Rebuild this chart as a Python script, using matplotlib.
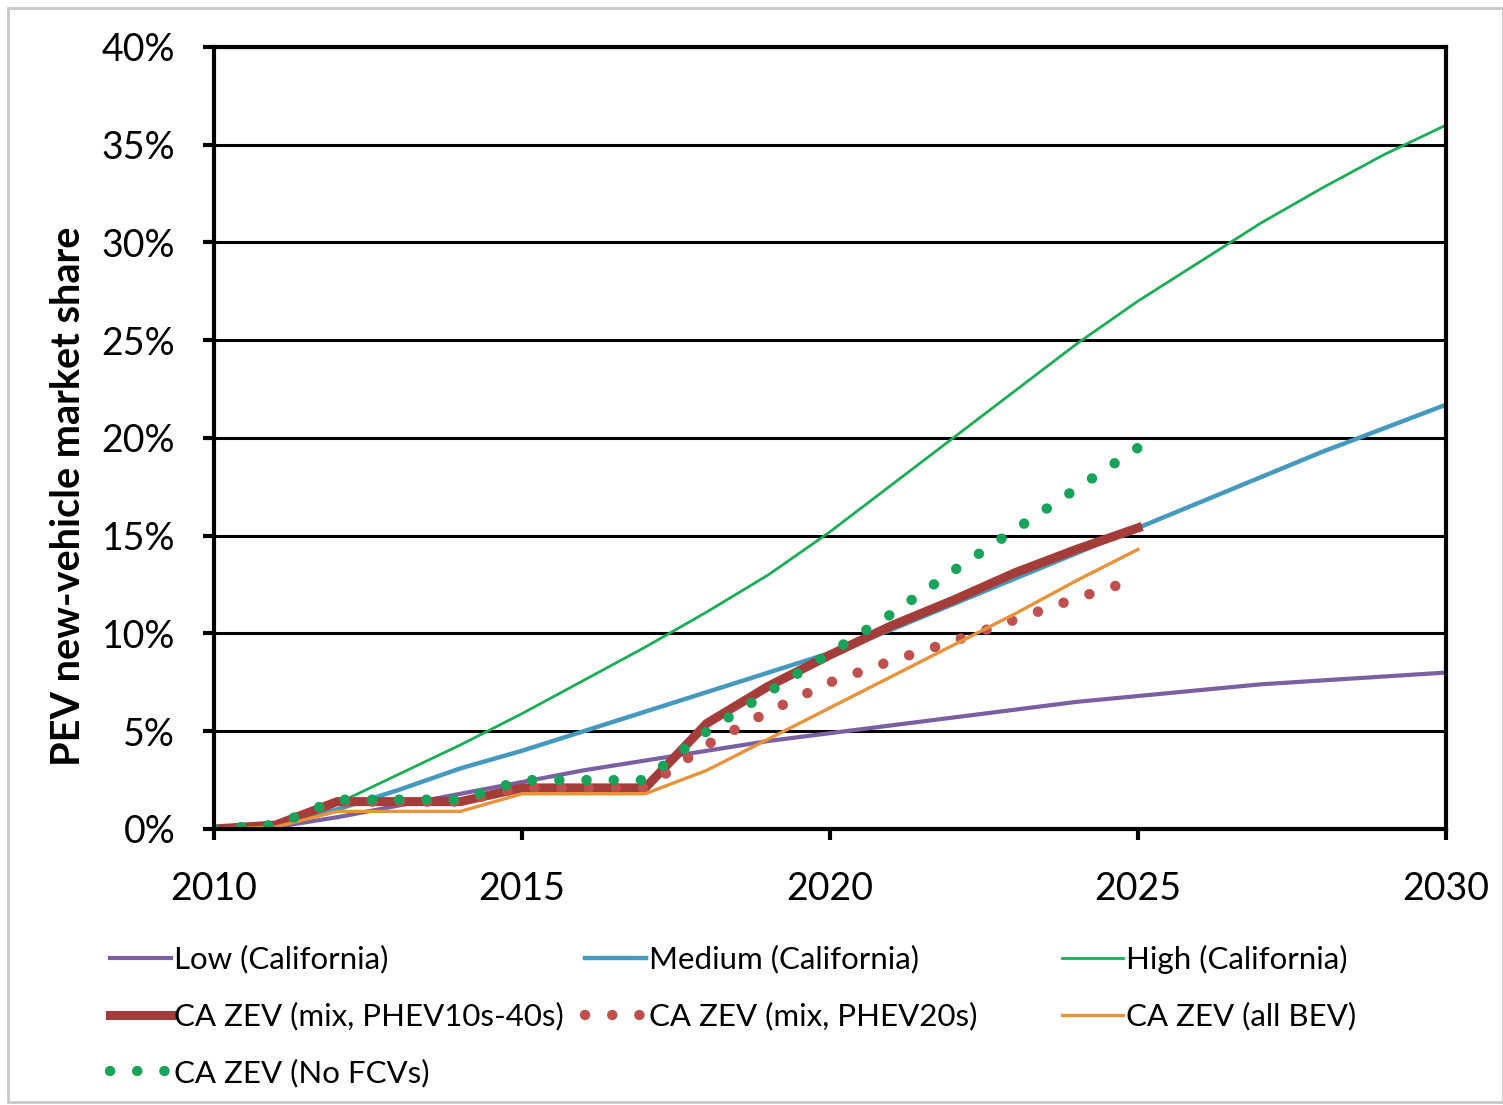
import matplotlib.pyplot as plt
from matplotlib.patches import Rectangle
from matplotlib.ticker import FuncFormatter

plt.rcParams['font.family'] = ['Lato', 'DejaVu Sans']

years_long = list(range(2010, 2031))
years_zev = list(range(2010, 2026))

low = [0, 0.1, 0.6, 1.2, 1.8, 2.4, 3.0, 3.5, 4.0, 4.5, 4.9, 5.3, 5.7, 6.1,
       6.5, 6.8, 7.1, 7.4, 7.6, 7.8, 8.0]
medium = [0, 0.2, 1.0, 2.0, 3.1, 4.0, 5.0, 6.0, 7.0, 8.0, 9.0, 10.2, 11.5,
          12.8, 14.1, 15.4, 16.7, 18.0, 19.3, 20.5, 21.7]
high = [0, 0.3, 1.3, 2.8, 4.3, 5.9, 7.6, 9.3, 11.1, 13.0, 15.2, 17.6, 20.0,
        22.4, 24.8, 27.0, 29.0, 31.0, 32.8, 34.5, 36.0]
zev_mix = [0, 0.2, 1.4, 1.4, 1.4, 2.1, 2.1, 2.1, 5.4, 7.3, 8.9, 10.4, 11.7,
           13.1, 14.3, 15.4]
zev_phev20 = [0, 0.2, 1.4, 1.4, 1.4, 2.1, 2.1, 2.1, 4.3, 6.0, 7.5, 8.6, 9.6,
              10.7, 11.8, 12.8]
zev_bev = [0, 0.1, 0.9, 0.9, 0.9, 1.8, 1.8, 1.8, 3.0, 4.6, 6.2, 7.8, 9.4,
           11.0, 12.7, 14.3]
zev_nofcv = [0, 0.2, 1.5, 1.5, 1.5, 2.5, 2.5, 2.5, 5.0, 7.0, 9.0, 11.0, 13.2,
             15.3, 17.4, 19.5]

fig = plt.figure(figsize=(15.03, 11.05), dpi=100)
# light grey frame round the whole picture
fig.patches.append(Rectangle((0.005, 0.003), 0.995, 0.99, transform=fig.transFigure,
                             fill=False, edgecolor='#c8c8c8', linewidth=2))
ax = fig.add_axes([0.1424, 0.2498, 0.8196, 0.7077])

dots = (0, (0.01, 2.6))
h_low, = ax.plot(years_long, low, color='#7a5fa2', lw=3, label='Low (California)')
h_med, = ax.plot(years_long, medium, color='#4599bf', lw=3.2, label='Medium (California)')
h_high, = ax.plot(years_long, high, color='#1aad55', lw=2, label='High (California)')
h_mix, = ax.plot(years_zev, zev_mix, color='#a43c3a', lw=6.5,
                 label='CA ZEV (mix, PHEV10s-40s)')
h_p20, = ax.plot(years_zev, zev_phev20, color='#c0504d', lw=7.5, linestyle=dots,
                 dash_capstyle='round', label='CA ZEV (mix, PHEV20s)')
h_bev, = ax.plot(years_zev, zev_bev, color='#e8923a', lw=2.4, label='CA ZEV (all BEV)')
h_nofcv, = ax.plot(years_zev, zev_nofcv, color='#17a359', lw=7.5, linestyle=dots,
                   dash_capstyle='round', label='CA ZEV (No FCVs)')

ax.set_xlim(2010, 2030)
ax.set_ylim(0, 40)
ax.set_xticks(range(2010, 2031, 5))
ax.set_yticks(range(0, 41, 5))
ax.yaxis.set_major_formatter(FuncFormatter(lambda v, p: f'{v:.0f}%'))
ax.grid(axis='y', color='black', lw=2.2)
ax.set_axisbelow(True)
for s in ax.spines.values():
    s.set_linewidth(3)
ax.tick_params(axis='both', direction='out', length=8, width=3, labelsize=27,
               colors='black')
ax.tick_params(axis='x', pad=22)
ax.tick_params(axis='y', pad=20)
ax.set_ylabel('PEV new-vehicle market share', fontsize=28.5, fontweight='bold')
ax.yaxis.set_label_coords(-0.103, 0.425)

# legend laid out as three fixed columns, like the original
columns = [([h_low, h_mix, h_nofcv], 110), ([h_med, h_p20], 585), ([h_high, h_bev], 1062)]
for hs, xpx in columns:
    fig.legend(handles=hs, labels=[h.get_label() for h in hs],
               loc='upper left', bbox_to_anchor=(xpx / 1503, 0.1448), frameon=False,
               fontsize=22.5, handlelength=1.95, handletextpad=0.1,
               labelspacing=0.9, borderaxespad=0, borderpad=0)

fig.savefig('out.png', dpi=100)
